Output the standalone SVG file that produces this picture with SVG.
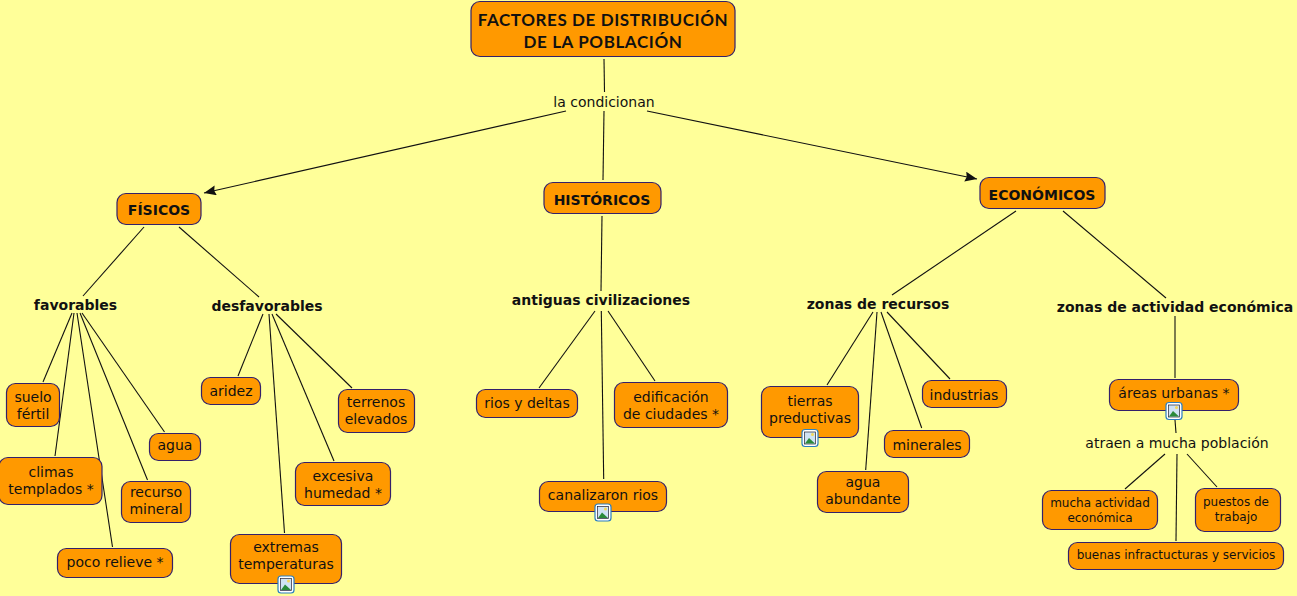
<svg xmlns="http://www.w3.org/2000/svg" width="1297" height="596" viewBox="0 0 1297 596">
<style>
.n{fill:#ff9900;stroke:#33206b;stroke-width:1.2}
text{font-family:"DejaVu Sans",Verdana,sans-serif;font-size:14px;fill:#111;text-anchor:middle}
.b{font-weight:bold}
.t{font-family:"Lato","DejaVu Sans",sans-serif;font-weight:bold;font-size:17px;letter-spacing:.6px}
.s{font-size:12px}
.c line{stroke:#111;stroke-width:1.1;fill:none}
.if{fill:#fff;stroke:#2a7fc0;stroke-width:1.2}
</style>
<defs>
<marker id="a" markerWidth="14" markerHeight="12" refX="12" refY="5" orient="auto" markerUnits="userSpaceOnUse"><path d="M0,0L12,5L0,10L1.500,5z" fill="#111"/></marker>
<g id="ic"><rect x="-8" y="-8.500" width="16" height="17" rx="3" class="if"/><rect x="-5.500" y="-6" width="11" height="12" fill="#cfe3f5" stroke="#223" stroke-width=".7"/><path d="M-5,5.500L-1,0L5,5.500z" fill="#2a8a3a"/><circle cx="2.500" cy="-3.500" r="1.500" fill="#f3d75a"/></g>
</defs>
<rect width="1297" height="596" fill="#ffff99"/>
<g class="c">
<line x1="604" y1="59" x2="604.500" y2="92"/>
<line x1="566" y1="111" x2="204" y2="193" marker-end="url(#a)"/>
<line x1="604" y1="111" x2="603" y2="180"/>
<line x1="647" y1="111" x2="977" y2="179" marker-end="url(#a)"/>
<line x1="144" y1="227" x2="83" y2="296"/>
<line x1="179" y1="227" x2="259" y2="297"/>
<line x1="602" y1="216" x2="601" y2="291"/>
<line x1="1016" y1="211" x2="892" y2="295"/>
<line x1="1063" y1="211" x2="1166" y2="298"/>
<line x1="72" y1="313" x2="43" y2="382"/>
<line x1="74" y1="313" x2="55" y2="456"/>
<line x1="77" y1="313" x2="112.500" y2="547"/>
<line x1="80" y1="313" x2="147.500" y2="480"/>
<line x1="82" y1="313" x2="164.500" y2="432"/>
<line x1="263" y1="314" x2="238" y2="376"/>
<line x1="269" y1="314" x2="284.500" y2="533"/>
<line x1="272" y1="314" x2="334" y2="461"/>
<line x1="276" y1="314" x2="352" y2="388"/>
<line x1="595" y1="311" x2="539" y2="388"/>
<line x1="601.300" y1="311" x2="603.700" y2="479"/>
<line x1="608" y1="311" x2="655" y2="381"/>
<line x1="873" y1="312" x2="827" y2="385"/>
<line x1="877" y1="312" x2="865.700" y2="470"/>
<line x1="881" y1="312" x2="921.700" y2="428"/>
<line x1="887" y1="312" x2="950" y2="379"/>
<line x1="1175" y1="316" x2="1175" y2="378"/>
<line x1="1175" y1="420" x2="1176" y2="433"/>
<line x1="1165" y1="454" x2="1125" y2="489"/>
<line x1="1177" y1="454" x2="1176" y2="541"/>
<line x1="1187" y1="454" x2="1217" y2="487"/>
</g>
<g id="n-title"><rect class="n" x="471" y="1.500" width="264" height="55" rx="9"/><text class="t" x="603" y="26">FACTORES DE DISTRIBUCIÓN</text><text class="t" x="603" y="48">DE LA POBLACIÓN</text></g>
<g id="l-cond"><text x="604" y="106.500">la condicionan</text></g>
<g id="n-fisicos"><rect class="n" x="117" y="193.500" width="84" height="31" rx="9"/><text class="b" x="159" y="215">FÍSICOS</text></g>
<g id="n-hist"><rect class="n" x="544" y="182.500" width="117" height="31" rx="9"/><text class="b" x="602" y="204.500">HISTÓRICOS</text></g>
<g id="n-econ"><rect class="n" x="980" y="177.500" width="125" height="31" rx="9"/><text class="b" x="1042" y="199.500">ECONÓMICOS</text></g>
<g id="l-fav"><text class="b" x="75.500" y="310">favorables</text></g>
<g id="l-desf"><text class="b" x="267" y="310.500">desfavorables</text></g>
<g id="l-ant"><text class="b" x="601" y="304.500">antiguas civilizaciones</text></g>
<g id="l-rec"><text class="b" x="878" y="308.500">zonas de recursos</text></g>
<g id="l-act"><text class="b" x="1175" y="311.500">zonas de actividad económica</text></g>
<g id="n-suelo"><rect class="n" x="6.500" y="383.500" width="53" height="43" rx="9"/><text x="33" y="402">suelo</text><text x="33" y="419">fértil</text></g>
<g id="n-climas"><rect class="n" x="-1" y="457.500" width="103" height="47" rx="9"/><text x="51" y="477">climas</text><text x="51" y="494">templados *</text></g>
<g id="n-poco"><rect class="n" x="57.500" y="548.500" width="115" height="29" rx="9"/><text x="115" y="567">poco relieve *</text></g>
<g id="n-recurso"><rect class="n" x="121.500" y="481.500" width="69" height="41" rx="9"/><text x="156" y="497">recurso</text><text x="156" y="514">mineral</text></g>
<g id="n-agua"><rect class="n" x="149.500" y="433.500" width="51" height="27" rx="9"/><text x="175" y="450">agua</text></g>
<g id="n-aridez"><rect class="n" x="201.500" y="377.500" width="59" height="27" rx="9"/><text x="231" y="396">aridez</text></g>
<g id="n-extremas"><rect class="n" x="230.500" y="534.500" width="111" height="49" rx="9"/><text x="286" y="552">extremas</text><text x="286" y="569">temperaturas</text><use href="#ic" x="286" y="584.500"/></g>
<g id="n-excesiva"><rect class="n" x="295.500" y="462.500" width="95" height="43" rx="9"/><text x="343" y="481">excesiva</text><text x="343" y="497.500">humedad *</text></g>
<g id="n-terrenos"><rect class="n" x="338.500" y="389.500" width="76" height="43" rx="9"/><text x="376" y="406.500">terrenos</text><text x="376" y="424">elevados</text></g>
<g id="n-rios"><rect class="n" x="476.500" y="389.500" width="101" height="28" rx="9"/><text x="527" y="408">rios y deltas</text></g>
<g id="n-edif"><rect class="n" x="614.500" y="382.500" width="113" height="45" rx="9"/><text x="671" y="402">edificación</text><text x="671" y="419">de ciudades *</text></g>
<g id="n-canal"><rect class="n" x="539.500" y="481.500" width="127" height="30" rx="9"/><text x="603" y="500">canalizaron rios</text><use href="#ic" x="603" y="512.500"/></g>
<g id="n-tierras"><rect class="n" x="761.500" y="386.500" width="97" height="51" rx="9"/><text x="810" y="405.500">tierras</text><text x="810" y="422.500">preductivas</text><use href="#ic" x="810" y="438"/></g>
<g id="n-aguaab"><rect class="n" x="817.500" y="471.500" width="91" height="41" rx="9"/><text x="863" y="487">agua</text><text x="863" y="504">abundante</text></g>
<g id="n-min"><rect class="n" x="884.500" y="430.500" width="85" height="27" rx="9"/><text x="927" y="450">minerales</text></g>
<g id="n-ind"><rect class="n" x="922.500" y="380.500" width="84" height="27" rx="9"/><text x="964" y="399.500">industrias</text></g>
<g id="n-areas"><rect class="n" x="1109.500" y="379.500" width="129" height="31" rx="9"/><text x="1174" y="398">áreas urbanas *</text><use href="#ic" x="1174" y="411"/></g>
<g id="l-atraen"><text x="1177" y="447.500">atraen a mucha población</text></g>
<g id="n-mucha"><rect class="n" x="1042.500" y="490.500" width="115" height="39" rx="9"/><text class="s" x="1100" y="507">mucha actividad</text><text class="s" x="1100" y="522">económica</text></g>
<g id="n-puestos"><rect class="n" x="1195.500" y="488.500" width="85" height="43" rx="9"/><text class="s" x="1236" y="506">puestos de</text><text class="s" x="1236" y="521">trabajo</text></g>
<g id="n-buenas"><rect class="n" x="1068.500" y="542.500" width="215" height="27" rx="9"/><text class="s" x="1176" y="559">buenas infractucturas y servicios</text></g>
</svg>
